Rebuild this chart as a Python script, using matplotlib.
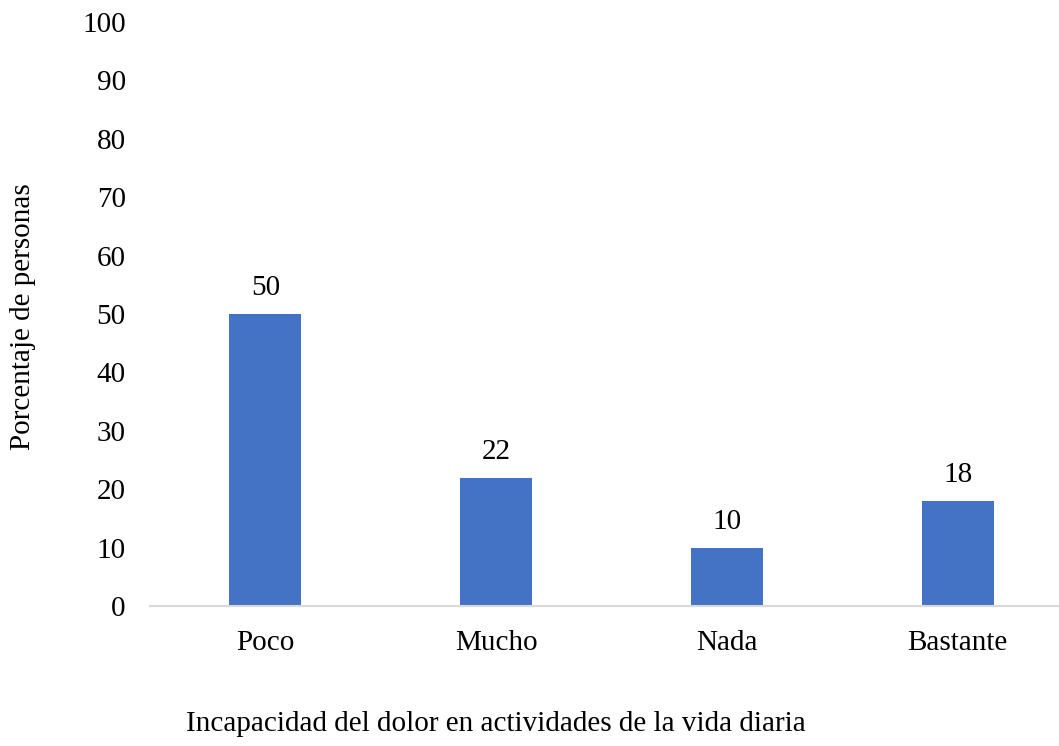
import matplotlib

matplotlib.use("Agg")
import matplotlib.pyplot as plt

categories = ["Poco", "Mucho", "Nada", "Bastante"]
values = [50, 22, 10, 18]
y_ticks = [0, 10, 20, 30, 40, 50, 60, 70, 80, 90, 100]

plt.rcParams["font.family"] = ["Liberation Serif", "DejaVu Serif"]
FONT_SIZE = 21

fig = plt.figure(figsize=(10.59, 7.46), dpi=100)
# category slot is ~231 px, so the plot runs a little past the right edge
ax = fig.add_axes([150 / 1059, 1 - 606 / 746, 923 / 1059, 584 / 746])

positions = range(len(categories))
bars = ax.bar(positions, values, width=0.312, color="#4472C4", zorder=2)
for bar, value in zip(bars, values):
    ax.annotate(f"{value}", (bar.get_x() + bar.get_width() / 2, value),
                xytext=(0, 13.5), textcoords="offset points",
                ha="center", va="baseline", fontsize=FONT_SIZE, color="#000000")

ax.set_xlim(-0.5, len(categories) - 0.5)
ax.set_ylim(0, 100)
ax.set_xticks(list(positions))
ax.set_xticklabels(categories, fontsize=FONT_SIZE)
ax.set_yticks(y_ticks)
ax.set_yticklabels([str(t) for t in y_ticks], fontsize=FONT_SIZE)
ax.tick_params(axis="both", length=0)
ax.tick_params(axis="x", pad=17)
ax.tick_params(axis="y", pad=17.5)

for side in ["top", "right", "left"]:
    ax.spines[side].set_visible(False)
ax.spines["bottom"].set_color("#D9D9D9")
ax.spines["bottom"].set_linewidth(1.5)

fig.text(23 / 1059, 1 - 317 / 746, "Porcentaje de personas", rotation=90,
         ha="center", va="center", fontsize=FONT_SIZE)
fig.text(496 / 1059, 1 - 724 / 746,
         "Incapacidad del dolor en actividades de la vida diaria",
         ha="center", va="center", fontsize=FONT_SIZE)

fig.savefig("out.png", dpi=100)
